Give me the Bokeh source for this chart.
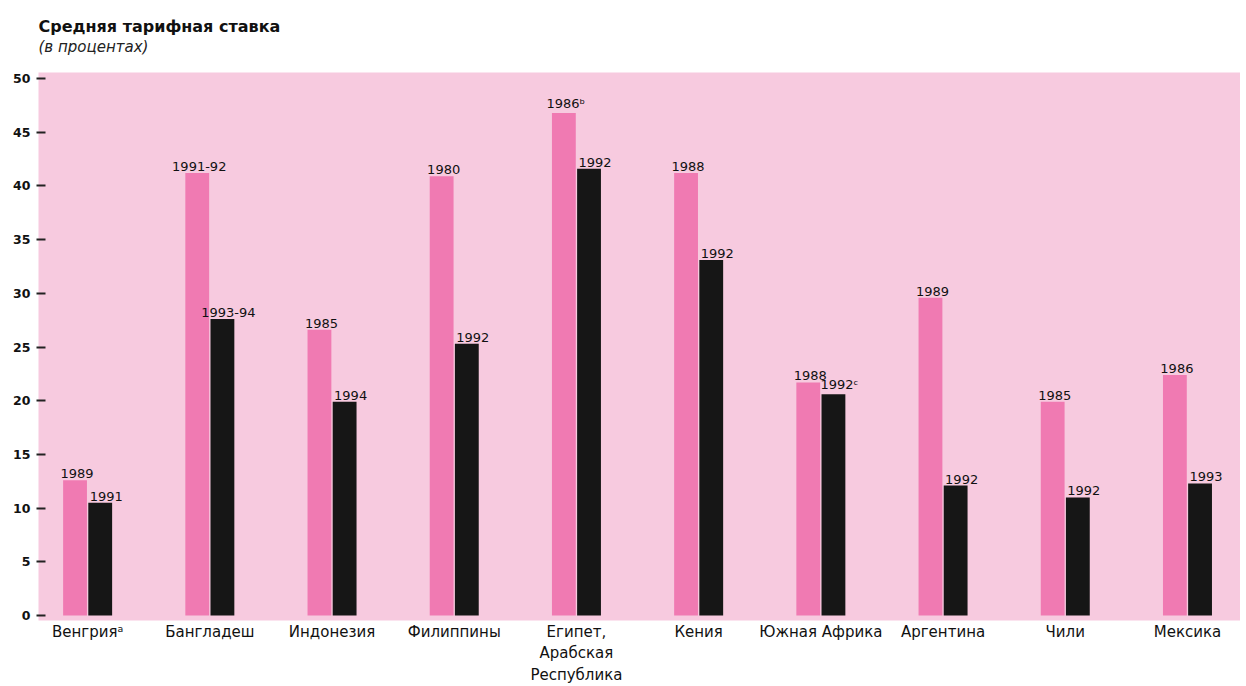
from bokeh.plotting import figure
from bokeh.models import FixedTicker, Title, ColumnDataSource, Range1d
from bokeh.core.properties import value
from bokeh.embed import file_html
from bokeh.resources import INLINE

countries = ["Венгрияᵃ", "Бангладеш", "Индонезия", "Филиппины",
             "Египет,\nАрабская\nРеспублика", "Кения", "Южная Африка",
             "Аргентина", "Чили", "Мексика"]
early_values = [12.6, 41.2, 26.6, 40.9, 46.8, 41.2, 21.7, 29.6, 19.9, 22.4]
late_values = [10.5, 27.6, 19.9, 25.3, 41.6, 33.1, 20.6, 12.1, 11.0, 12.3]
early_years = ["1989", "1991-92", "1985", "1980", "1986ᵇ", "1988", "1988", "1989", "1985", "1986"]
late_years = ["1991", "1993-94", "1994", "1992", "1992", "1992", "1992ᶜ", "1992", "1992", "1993"]
y_ticks = [0, 5, 10, 15, 20, 25, 30, 35, 40, 45, 50]

title_text = "Средняя тарифная ставка"
subtitle_text = "(в процентах)"

PINK_BG = "#f7cadf"
PINK_BAR = "#f07ab2"
DARK_BAR = "#161616"
FONT = "DejaVu Sans"

idx = list(range(len(countries)))
off = 0.103
w = 0.195

src_e = ColumnDataSource(dict(x=[i - off for i in idx], top=early_values, label=early_years))
src_l = ColumnDataSource(dict(x=[i + off for i in idx], top=late_values, label=late_years))

p = figure(width=1240, height=686, output_backend="svg", toolbar_location=None,
           x_range=Range1d(-0.402, 9.434), y_range=Range1d(-0.46, 50.56),
           min_border_left=38, min_border_right=0, min_border_top=72, min_border_bottom=64)

p.background_fill_color = PINK_BG
p.border_fill_color = "white"
p.outline_line_color = None
p.grid.visible = False

p.vbar(x="x", top="top", bottom=0, width=w, source=src_e, color=PINK_BAR, line_color=None)
p.vbar(x="x", top="top", bottom=0, width=w, source=src_l, color=DARK_BAR, line_color=None)

p.text(x="x", y="top", text="label", source=src_e, text_align="center", text_baseline="bottom",
       x_offset=2, y_offset=-2, text_font=value(FONT), text_font_size="13px", text_color="#111111")
p.text(x="x", y="top", text="label", source=src_l, text_align="center", text_baseline="bottom",
       x_offset=6, y_offset=-2, text_font=value(FONT), text_font_size="13px", text_color="#111111")

# y axis
ya = p.yaxis[0]
ya.ticker = FixedTicker(ticks=y_ticks)
ya.axis_line_color = None
ya.minor_tick_line_color = None
ya.major_tick_in = 7
ya.major_tick_out = 2
ya.major_tick_line_width = 2
ya.major_tick_line_color = "#222222"
ya.major_label_standoff = 6
ya.major_label_text_font = FONT
ya.major_label_text_font_style = "bold"
ya.major_label_text_font_size = "12.5px"
ya.major_label_text_color = "#111111"

# x axis
xa = p.xaxis[0]
xa.ticker = FixedTicker(ticks=idx)
xa.major_label_overrides = {i: c for i, c in zip(idx, countries)}
xa.axis_line_color = None
xa.major_tick_line_color = None
xa.minor_tick_line_color = None
xa.major_tick_in = 0
xa.major_tick_out = 0
xa.major_label_standoff = 2
xa.major_label_text_font = FONT
xa.major_label_text_font_size = "15px"
xa.major_label_text_color = "#111111"

# spacer between frame and subtitle, then subtitle, then main title
p.add_layout(Title(text=".", text_color="white", text_font_size="10px", standoff=7), "above")
p.add_layout(Title(text=subtitle_text, text_font=FONT, text_font_style="italic",
                   text_font_size="15px", align="left", text_color="#222222", standoff=0), "above")
p.add_layout(Title(text=title_text, text_font=FONT, text_font_style="bold",
                   text_font_size="16px", align="left", text_color="#111111", standoff=0), "above")

open("out.html", "w").write(file_html(p, INLINE))
